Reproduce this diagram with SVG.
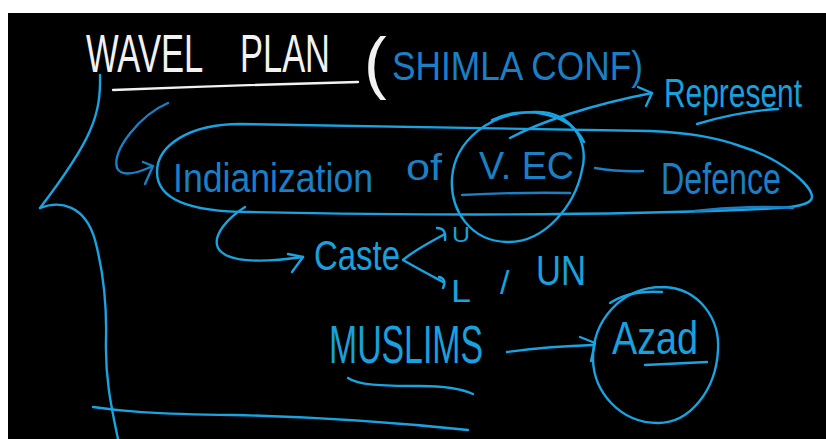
<svg xmlns="http://www.w3.org/2000/svg" width="826" height="439" viewBox="0 0 826 439">
  <style>
    .ink { fill: none; stroke: #19a3e0; stroke-width: 2.4; stroke-linecap: round; stroke-linejoin: round; }
    .ink-dark { fill: none; stroke: #1a7fc4; stroke-width: 2.4; stroke-linecap: round; stroke-linejoin: round; }
    .chalk { fill: none; stroke: #f2f2f2; stroke-width: 2.4; stroke-linecap: round; }
    text { font-family: "Liberation Sans", Arial, sans-serif; }
    .t-white { fill: #f2f2f2; }
    .t-blue { fill: #19a0de; }
    .t-dark { fill: #1b7fc6; }
  </style>

  <!-- board -->
  <rect x="0" y="0" width="826" height="439" fill="#ffffff"/>
  <rect x="8" y="13" width="818" height="426" fill="#000000"/>

  <!-- heading -->
  <g id="title">
    <text class="t-white" font-size="54"><tspan x="86" y="72" textLength="116" lengthAdjust="spacingAndGlyphs">WAVEL</tspan> <tspan x="240" y="72" textLength="90" lengthAdjust="spacingAndGlyphs">PLAN</tspan></text>
    <path class="chalk" d="M113 90 Q240 85 358 82"/>
  </g>

  <g id="shimla">
    <text><tspan class="t-white" x="364" y="86" font-size="68">(</tspan><tspan class="t-dark" x="392" y="80" font-size="40" textLength="251" lengthAdjust="spacingAndGlyphs">SHIMLA CONF)</tspan></text>
  </g>

  <g id="represent">
    <text class="t-blue" x="664" y="107" font-size="40" textLength="138" lengthAdjust="spacingAndGlyphs">Represent</text>
    <path class="ink" d="M697 124 C720 117 745 111 778 109"/>
  </g>

  <!-- main statement enclosed in a long loop -->
  <g id="indianization">
    <path class="ink" d="M240 124 C190 124 157 145 157 172 C157 200 190 212 250 212 C400 215 600 216 760 209 C795 208 812 205 812 197 C812 185 780 158 740 146 C715 137 690 133 650 131 C550 129 400 126 240 124 Z"/>
    <text class="t-dark" x="173" y="192" font-size="40" textLength="200" lengthAdjust="spacingAndGlyphs">Indianization</text>
    <text class="t-dark" x="406" y="180" font-size="36" textLength="36" lengthAdjust="spacingAndGlyphs">of</text>
  </g>

  <g id="vec">
    <path class="ink" d="M533 112 C570 110 590 140 582 170 C575 205 545 243 507 242 C470 241 450 210 452 178 C455 140 490 113 533 112"/>
    <path class="ink" d="M492 120 C520 106 568 110 584 142"/>
    <text class="t-dark" x="479" y="179" font-size="38" textLength="95" lengthAdjust="spacingAndGlyphs">V. EC</text>
    <path class="ink-dark" d="M462 195 Q520 192 570 193"/>
  </g>

  <g id="defence">
    <text class="t-dark" x="661" y="194" font-size="44" textLength="120" lengthAdjust="spacingAndGlyphs">Defence</text>
    <path class="ink-dark" d="M695 211 C730 207 770 206 793 208"/>
  </g>

  <g id="caste">
    <text class="t-blue" x="314" y="270" font-size="42" textLength="86" lengthAdjust="spacingAndGlyphs">Caste</text>
  </g>

  <g id="upper">
    <text class="t-blue" x="452" y="242" font-size="22" textLength="18" lengthAdjust="spacingAndGlyphs">U</text>
  </g>

  <g id="lower">
    <text class="t-blue" x="451" y="302" font-size="32" textLength="20" lengthAdjust="spacingAndGlyphs">L</text>
  </g>

  <g id="un">
    <text class="t-blue" x="500" y="294" font-size="34">/</text>
    <text class="t-blue" x="536" y="285" font-size="42" textLength="50" lengthAdjust="spacingAndGlyphs">UN</text>
  </g>

  <g id="muslims">
    <text class="t-blue" x="329" y="363" font-size="54" textLength="154" lengthAdjust="spacingAndGlyphs">MUSLIMS</text>
    <path class="ink" d="M348 378 C358 385 380 386 420 386 C445 386 462 389 473 394"/>
  </g>

  <g id="azad">
    <path class="ink" d="M663 287 C700 288 720 320 718 350 C716 390 690 423 658 423 C620 423 594 392 593 360 C592 322 620 287 663 287"/>
    <path class="ink" d="M610 303 C625 293 645 291 662 292"/>
    <text class="t-blue" x="612" y="354" font-size="46" textLength="86" lengthAdjust="spacingAndGlyphs">Azad</text>
    <path class="ink" d="M645 365 L707 362"/>
  </g>

  <!-- connectors -->
  <g id="connectors">
    <!-- left brace and base line -->
    <path class="ink" d="M100 75 C101 115 92 140 40 208"/>
    <path class="ink" d="M40 208 C60 200 85 205 95 240 C103 270 107 300 106 340 C105 380 112 410 118 439"/>
    <path class="ink" d="M93 407 C120 411 150 414 233 415 C330 417 410 424 468 430"/>
    <!-- return arrow into the loop -->
    <path class="ink-dark" d="M168 103 C140 115 112 150 117 168 C122 178 140 172 153 166"/>
    <path class="ink-dark" d="M143 162 L153 166 L145 184"/>
    <!-- V.EC to Represent -->
    <path class="ink" d="M510 138 C540 122 590 105 652 93"/>
    <path class="ink" d="M638 87 L652 93 L646 106"/>
    <!-- V.EC to Defence -->
    <path class="ink-dark" d="M595 168 Q620 172 643 171"/>
    <!-- Indianization to Caste -->
    <path class="ink" d="M245 207 C228 218 212 235 218 248 C226 262 260 263 303 257"/>
    <path class="ink" d="M288 254 L303 257 L292 272"/>
    <!-- Caste split -->
    <path class="ink" d="M445 234 C430 242 412 252 403 260 C415 267 430 275 443 282"/>
    <path class="ink" d="M437 228 C442 228 446 230 445 240"/>
    <path class="ink" d="M439 277 C444 278 446 282 443 288"/>
    <!-- Muslims to Azad -->
    <path class="ink" d="M507 352 C530 349 560 346 593 345"/>
    <path class="ink" d="M580 337 L595 343 L591 361"/>
  </g>
</svg>
